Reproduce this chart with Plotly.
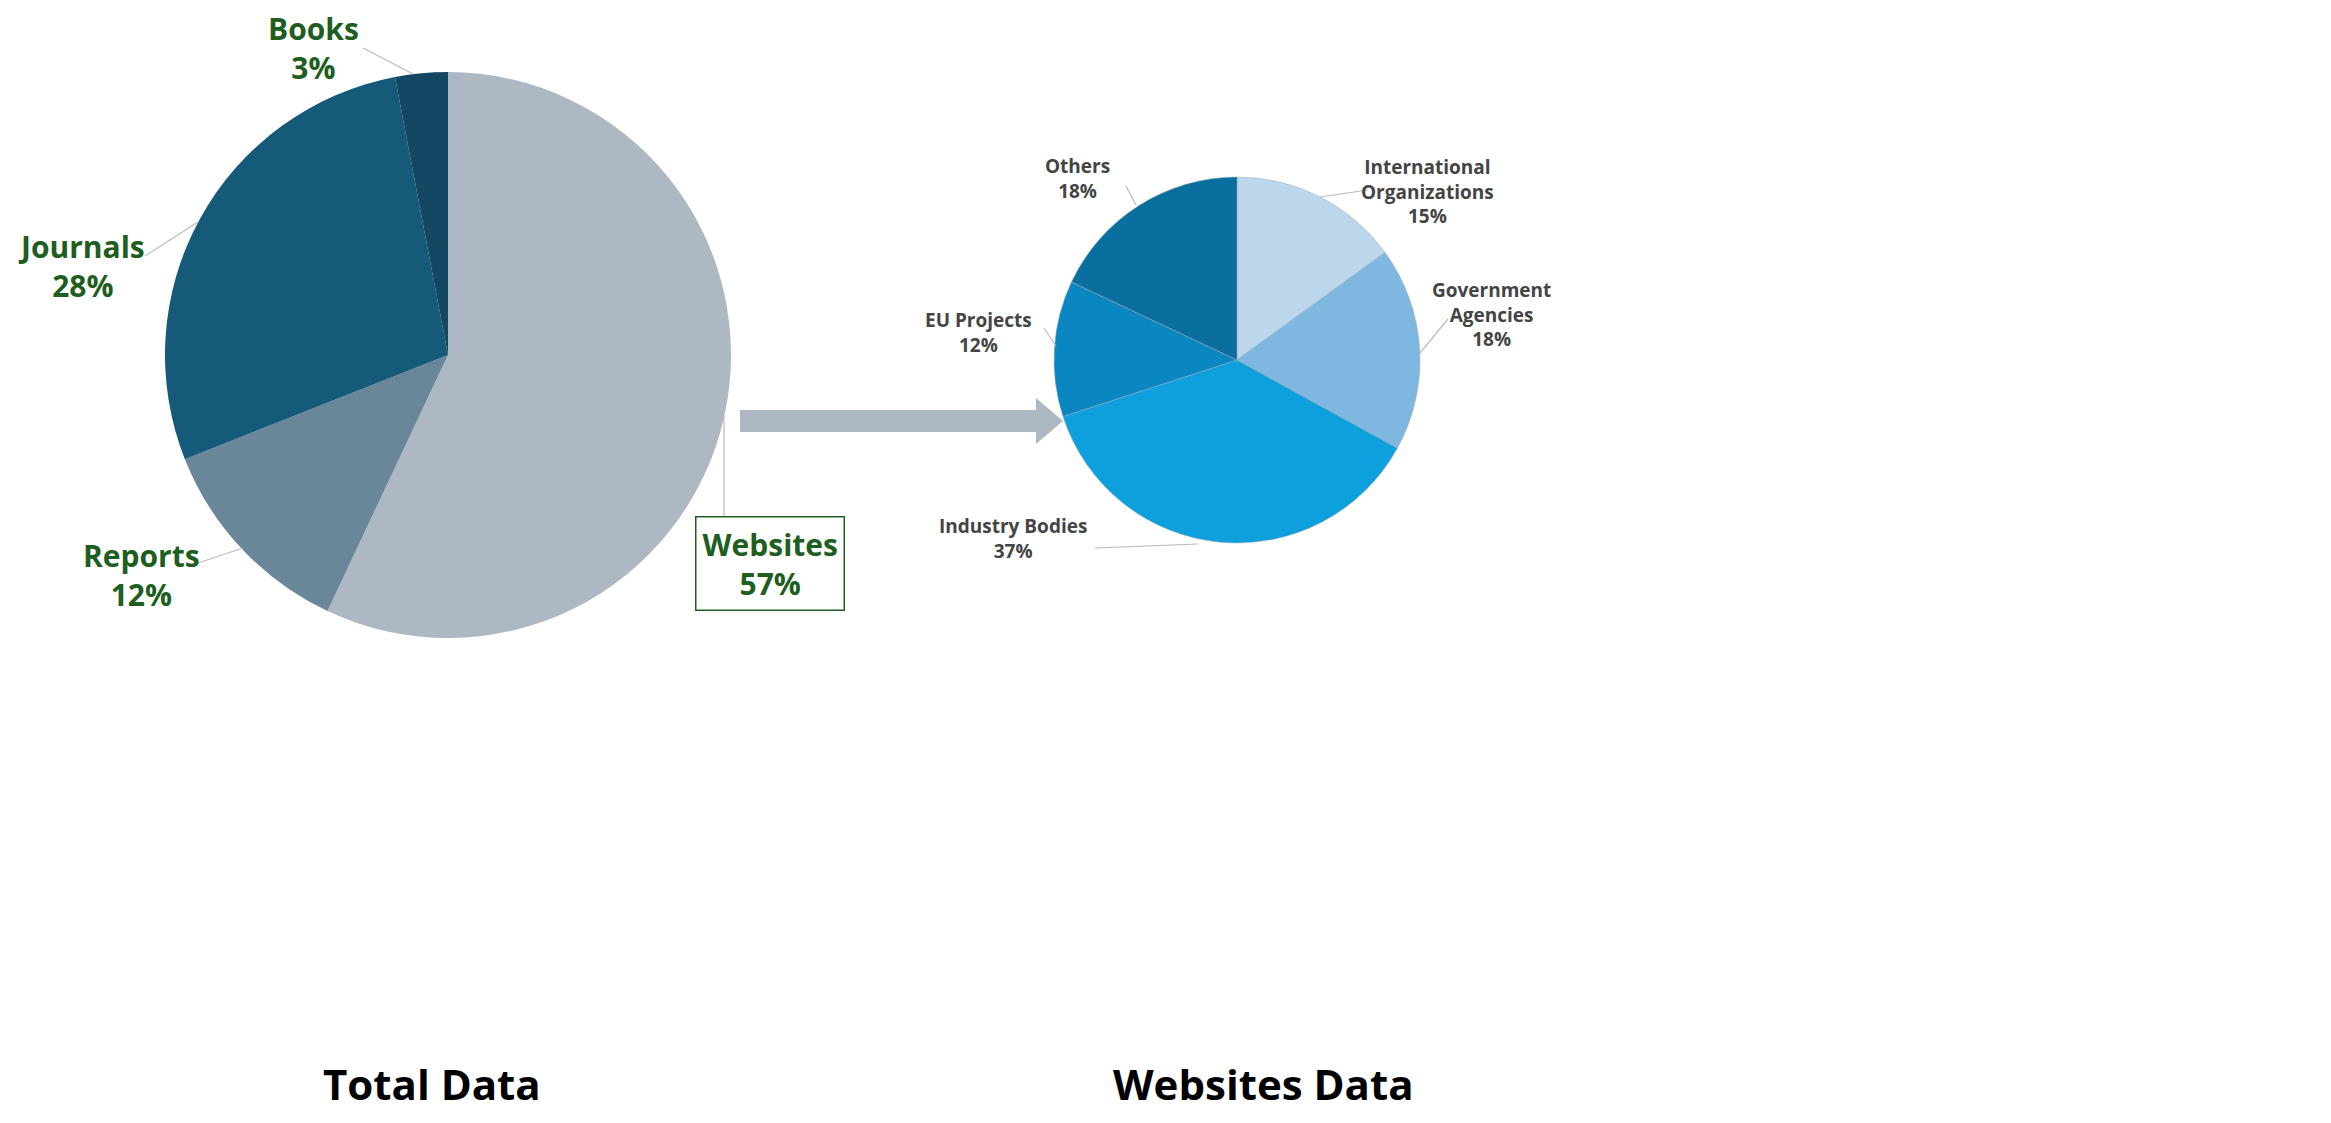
import plotly.graph_objects as go

W, H = 2331, 1123
total_labels = ["Websites", "Reports", "Journals", "Books"]
total_values = [57, 12, 28, 3]
total_colors = ["#AEB8C2", "#6A8699", "#165A7A", "#134762"]

web_labels = ["International<br>Organizations", "Government<br>Agencies", "Industry Bodies", "EU Projects", "Others"]
web_values = [15, 18, 37, 12, 18]
web_colors = ["#BCD7EC", "#7EB8E0", "#0EA0DC", "#0A86C0", "#0A6E9E"]

def px(x): return x / W
def py(y): return 1 - y / H

fig = go.Figure()
fig.add_trace(go.Pie(labels=total_labels, values=total_values, sort=False, direction="clockwise",
                     rotation=0, textinfo="none", hoverinfo="label+percent",
                     marker=dict(colors=total_colors, line=dict(color="white", width=0)),
                     domain=dict(x=[px(157), px(723)], y=[py(630), py(64)]), showlegend=False))
fig.add_trace(go.Pie(labels=web_labels, values=web_values, sort=False, direction="clockwise",
                     rotation=0, textinfo="none", hoverinfo="label+percent",
                     marker=dict(colors=web_colors, line=dict(color="#9ab", width=0.5)),
                     domain=dict(x=[px(1046), px(1412)], y=[py(535), py(169)]), showlegend=False))

green = "#1E5E20"
left_pos = {"Websites": (762, 555), "Reports": (133, 567), "Journals": (73, 258), "Books": (305, 40)}
for lab, v in zip(total_labels, total_values):
    x, y = left_pos[lab]
    fig.add_annotation(x=px(x), y=py(y), xref="paper", yref="paper", showarrow=False,
                       xanchor="center", yanchor="middle",
                       text=f"<b>{lab}<br>{v}%</b>", font=dict(family="Open Sans", size=30, color=green),
                       bordercolor=green if lab == "Websites" else None, borderwidth=1.5 if lab == "Websites" else 0,
                       borderpad=6, bgcolor="white" if lab == "Websites" else None)
right_pos = [(1419, 183), (1483, 306), (1005, 530), (970, 324), (1069, 171)]
for lab, v, (x, y) in zip(web_labels, web_values, right_pos):
    fig.add_annotation(x=px(x), y=py(y), xref="paper", yref="paper", showarrow=False,
                       xanchor="center", yanchor="middle",
                       text=f"<b>{lab}<br>{v}%</b>", font=dict(family="Open Sans", size=19, color="#444"))

leaders = [(355, 40, 405, 66), (137, 248, 190, 214), (190, 555, 235, 540), (716, 408, 716, 515),
           (1312, 189, 1360, 182), (1412, 345, 1440, 311), (1087, 540, 1190, 536), (1048, 338, 1036, 320), (1128, 197, 1118, 178)]
for x0, y0, x1, y1 in leaders:
    fig.add_shape(type="line", xref="paper", yref="paper", x0=px(x0), y0=py(y0), x1=px(x1), y1=py(y1),
                  line=dict(color="#BBBBBB", width=1.2))

# arrow
fig.add_shape(type="path", xref="paper", yref="paper", fillcolor="#AEB8C2", line=dict(width=0),
              path=f"M {px(732)} {py(402)} L {px(1028)} {py(402)} L {px(1028)} {py(390)} L {px(1055)} {py(413)} "
                   f"L {px(1028)} {py(436)} L {px(1028)} {py(424)} L {px(732)} {py(424)} Z")

for t, x in [("Total Data", 424), ("Websites Data", 1255)]:
    fig.add_annotation(x=px(x), y=py(1075), xref="paper", yref="paper", showarrow=False,
                       xanchor="center", yanchor="middle",
                       text=f"<b>{t}</b>", font=dict(family="Open Sans", size=42, color="black"))

fig.update_layout(width=W, height=H, margin=dict(l=0, r=0, t=0, b=0),
                  paper_bgcolor="white", plot_bgcolor="white")
fig.write_html("out.html")
